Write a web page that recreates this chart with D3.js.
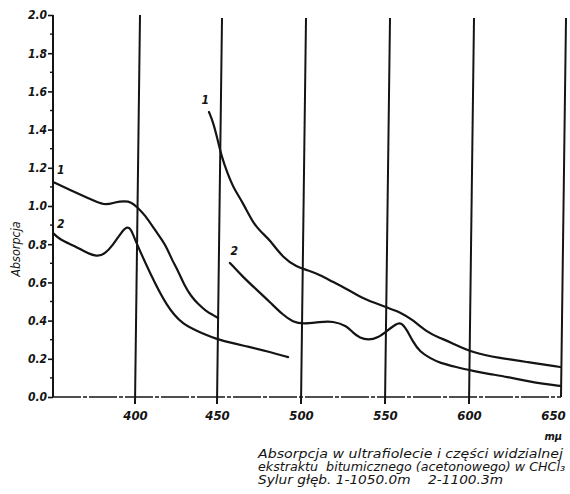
<!DOCTYPE html>
<html><head><meta charset="utf-8">
<script src="https://cdn.jsdelivr.net/npm/d3@7"></script>
<style>body{margin:0;background:#fff}svg{display:block}</style>
</head><body>
<svg id="c" width="570" height="494"></svg>
<script>
// ---- data ----
const xTicks = [400, 450, 500, 550, 600, 650];
const yTicks = [0.0, 0.2, 0.4, 0.6, 0.8, 1.0, 1.2, 1.4, 1.6, 1.8, 2.0];
const yMinor = [0.1, 0.3, 0.5, 0.7, 0.9, 1.1, 1.3, 1.5, 1.7, 1.9];

// curve 1 (1050.0 m), short-wave segment
const c1aNm  = [350.0, 360.4, 371.3, 381.7, 387.8, 393.9, 397.6, 401.2, 406.1, 412.2, 416.5, 419.5, 422.6, 426.3, 430.0, 434.1, 438.4, 443.3, 447.6, 450.6];
const c1aVal = [1.126, 1.084, 1.042, 1.000, 1.021, 1.026, 1.021, 0.995, 0.953, 0.874, 0.822, 0.780, 0.717, 0.660, 0.586, 0.529, 0.487, 0.450, 0.429, 0.414];
// curve 2 (1100.3 m), short-wave segment
const c2aNm  = [350.0, 354.3, 363.4, 369.5, 376.8, 381.7, 386.6, 390.9, 395.1, 397.6, 400.0, 409.1, 419.5, 429.3, 439.6, 450.6, 469.6, 481.5, 492.3];
const c2aVal = [0.859, 0.822, 0.791, 0.759, 0.733, 0.749, 0.796, 0.853, 0.895, 0.880, 0.822, 0.649, 0.471, 0.377, 0.340, 0.298, 0.262, 0.236, 0.209];
// curve 1, long-wave segment
const c1bNm  = [445.1, 447.6, 450.0, 453.0, 456.0, 459.5, 465.5, 471.4, 476.8, 481.5, 489.3, 497.6, 503.6, 511.3, 519.0, 526.2, 535.1, 544.0, 551.8, 558.9, 566.7, 575.0, 582.7, 588.7, 602.2, 616.8, 631.5, 649.5];
const c1bVal = [1.492, 1.440, 1.361, 1.251, 1.178, 1.099, 1.016, 0.911, 0.859, 0.822, 0.728, 0.681, 0.665, 0.639, 0.602, 0.571, 0.524, 0.492, 0.466, 0.445, 0.403, 0.340, 0.309, 0.288, 0.230, 0.204, 0.183, 0.157];
// curve 2, long-wave segment
const c2bNm  = [457.7, 465.5, 473.8, 481.5, 489.3, 495.2, 501.2, 511.3, 519.0, 527.4, 531.0, 535.1, 539.9, 545.8, 551.8, 556.5, 559.5, 563.1, 566.7, 570.8, 576.8, 582.7, 592.3, 602.2, 611.4, 620.7, 631.5, 641.3, 649.5];
const c2bVal = [0.702, 0.628, 0.560, 0.497, 0.429, 0.393, 0.382, 0.393, 0.398, 0.372, 0.335, 0.309, 0.298, 0.309, 0.351, 0.382, 0.392, 0.351, 0.288, 0.236, 0.204, 0.178, 0.157, 0.136, 0.120, 0.105, 0.084, 0.068, 0.058];

const curveLabels = [
  {t: "1", nm: 352.5, v: 1.165},
  {t: "2", nm: 352.5, v: 0.885},
  {t: "1", nm: 440.5, v: 1.535},
  {t: "2", nm: 458.0, v: 0.745}
];

const yTitle = "Absorpcja";
const unit = "mμ";
const caption = [
  "Absorpcja w ultrafiolecie i części widzialnej",
  "ekstraktu  bitumicznego (acetonowego) w CHCl₃",
  "Sylur głęb. 1-1050.0m    2-1100.3m"
];

// ---- drawing ----
const svg = d3.select("#c");
const ink = "#141414";
const fontC = "'DejaVu Sans Condensed', 'DejaVu Sans', sans-serif";

const x = d3.scaleLinear()
  .domain([350, 400, 450, 500, 550, 600, 650])
  .range([53, 135, 217, 301, 385, 469, 561]);
const y = d3.scaleLinear().domain([0, 2]).range([397, 15]);

// vertical reference lines (slightly slanted as in the scan)
const slant = 5;
svg.append("g").selectAll("line").data(xTicks).join("line")
  .attr("x1", d => x(d)).attr("y1", d => d === 650 ? y(0) : y(0) + 7)
  .attr("x2", d => x(d) + slant).attr("y2", d => y(2) + (d === 400 ? 0 : 3))
  .attr("stroke", ink).attr("stroke-width", 2);

// x axis baseline (broken line)
svg.append("line")
  .attr("x1", x(350)).attr("x2", x(650)).attr("y1", y(0)).attr("y2", y(0))
  .attr("stroke", ink).attr("stroke-width", 1.6)
  .attr("stroke-dasharray", "28,2,4,2");

// x tick labels
const xAxis = svg.append("g").attr("transform", `translate(0,${y(0)})`)
  .call(d3.axisBottom(x).tickValues(xTicks).tickSize(0).tickPadding(14).tickFormat(d3.format("d")));
xAxis.select(".domain").remove();
xAxis.selectAll("text").attr("font-family", fontC).attr("font-size", 13)
  .attr("font-style", "oblique").attr("font-weight", "bold").attr("fill", ink)
  .attr("dx", d => d === 650 ? -8 : 0);

// y axis
const yAxis = svg.append("g").attr("transform", `translate(${x(350)},0)`)
  .call(d3.axisLeft(y).tickValues(yTicks).tickSize(5).tickPadding(1).tickFormat(d3.format(".1f")));
yAxis.select(".domain").attr("d", `M0,${y(0)}V${y(2)}`).attr("stroke", ink).attr("stroke-width", 2);
yAxis.selectAll(".tick line").attr("stroke", ink).attr("stroke-width", 1.6);
yAxis.selectAll("text").attr("font-family", fontC).attr("font-size", 12)
  .attr("font-style", "oblique").attr("font-weight", "bold").attr("fill", ink);
svg.append("g").attr("transform", `translate(${x(350)},0)`)
  .selectAll("line").data(yMinor).join("line")
  .attr("x1", -3).attr("x2", 0).attr("y1", d => y(d)).attr("y2", d => y(d))
  .attr("stroke", ink).attr("stroke-width", 1.4);

// curves
const line = d3.line().x(d => x(d[0])).y(d => y(d[1])).curve(d3.curveBasis);
const series = [[c1aNm, c1aVal], [c2aNm, c2aVal], [c1bNm, c1bVal], [c2bNm, c2bVal]];
svg.append("g").selectAll("path").data(series).join("path")
  .attr("d", s => line(s[0].map((n, i) => [n, s[1][i]])))
  .attr("fill", "none").attr("stroke", ink).attr("stroke-width", 2.2)
  .attr("stroke-linecap", "round").attr("stroke-linejoin", "round");

// curve number labels
svg.append("g").selectAll("text").data(curveLabels).join("text")
  .attr("x", d => x(d.nm)).attr("y", d => y(d.v))
  .attr("font-family", fontC).attr("font-size", 12).attr("font-weight", "bold")
  .attr("font-style", "oblique").attr("fill", ink).text(d => d.t);

// y title
svg.append("text")
  .attr("transform", "translate(20,249) rotate(-90)")
  .attr("text-anchor", "middle")
  .attr("font-family", fontC).attr("font-size", 12.5).attr("font-style", "oblique")
  .attr("fill", ink).text(yTitle);

// unit
svg.append("text").attr("x", 562).attr("y", 440).attr("text-anchor", "end")
  .attr("font-family", fontC).attr("font-size", 11).attr("font-style", "oblique")
  .attr("font-weight", "bold").attr("fill", ink).text(unit);

// caption
const capW = [305, 307, 245];
const capY = [458, 471, 484];
svg.append("g").selectAll("text").data(caption).join("text")
  .attr("x", 258).attr("y", (d, i) => capY[i])
  .attr("textLength", (d, i) => capW[i]).attr("lengthAdjust", "spacingAndGlyphs")
  .style("white-space", "pre")
  .attr("font-family", fontC).attr("font-size", 11.5).attr("font-style", "oblique")
  .attr("fill", ink).text(d => d);
</script>
</body></html>
